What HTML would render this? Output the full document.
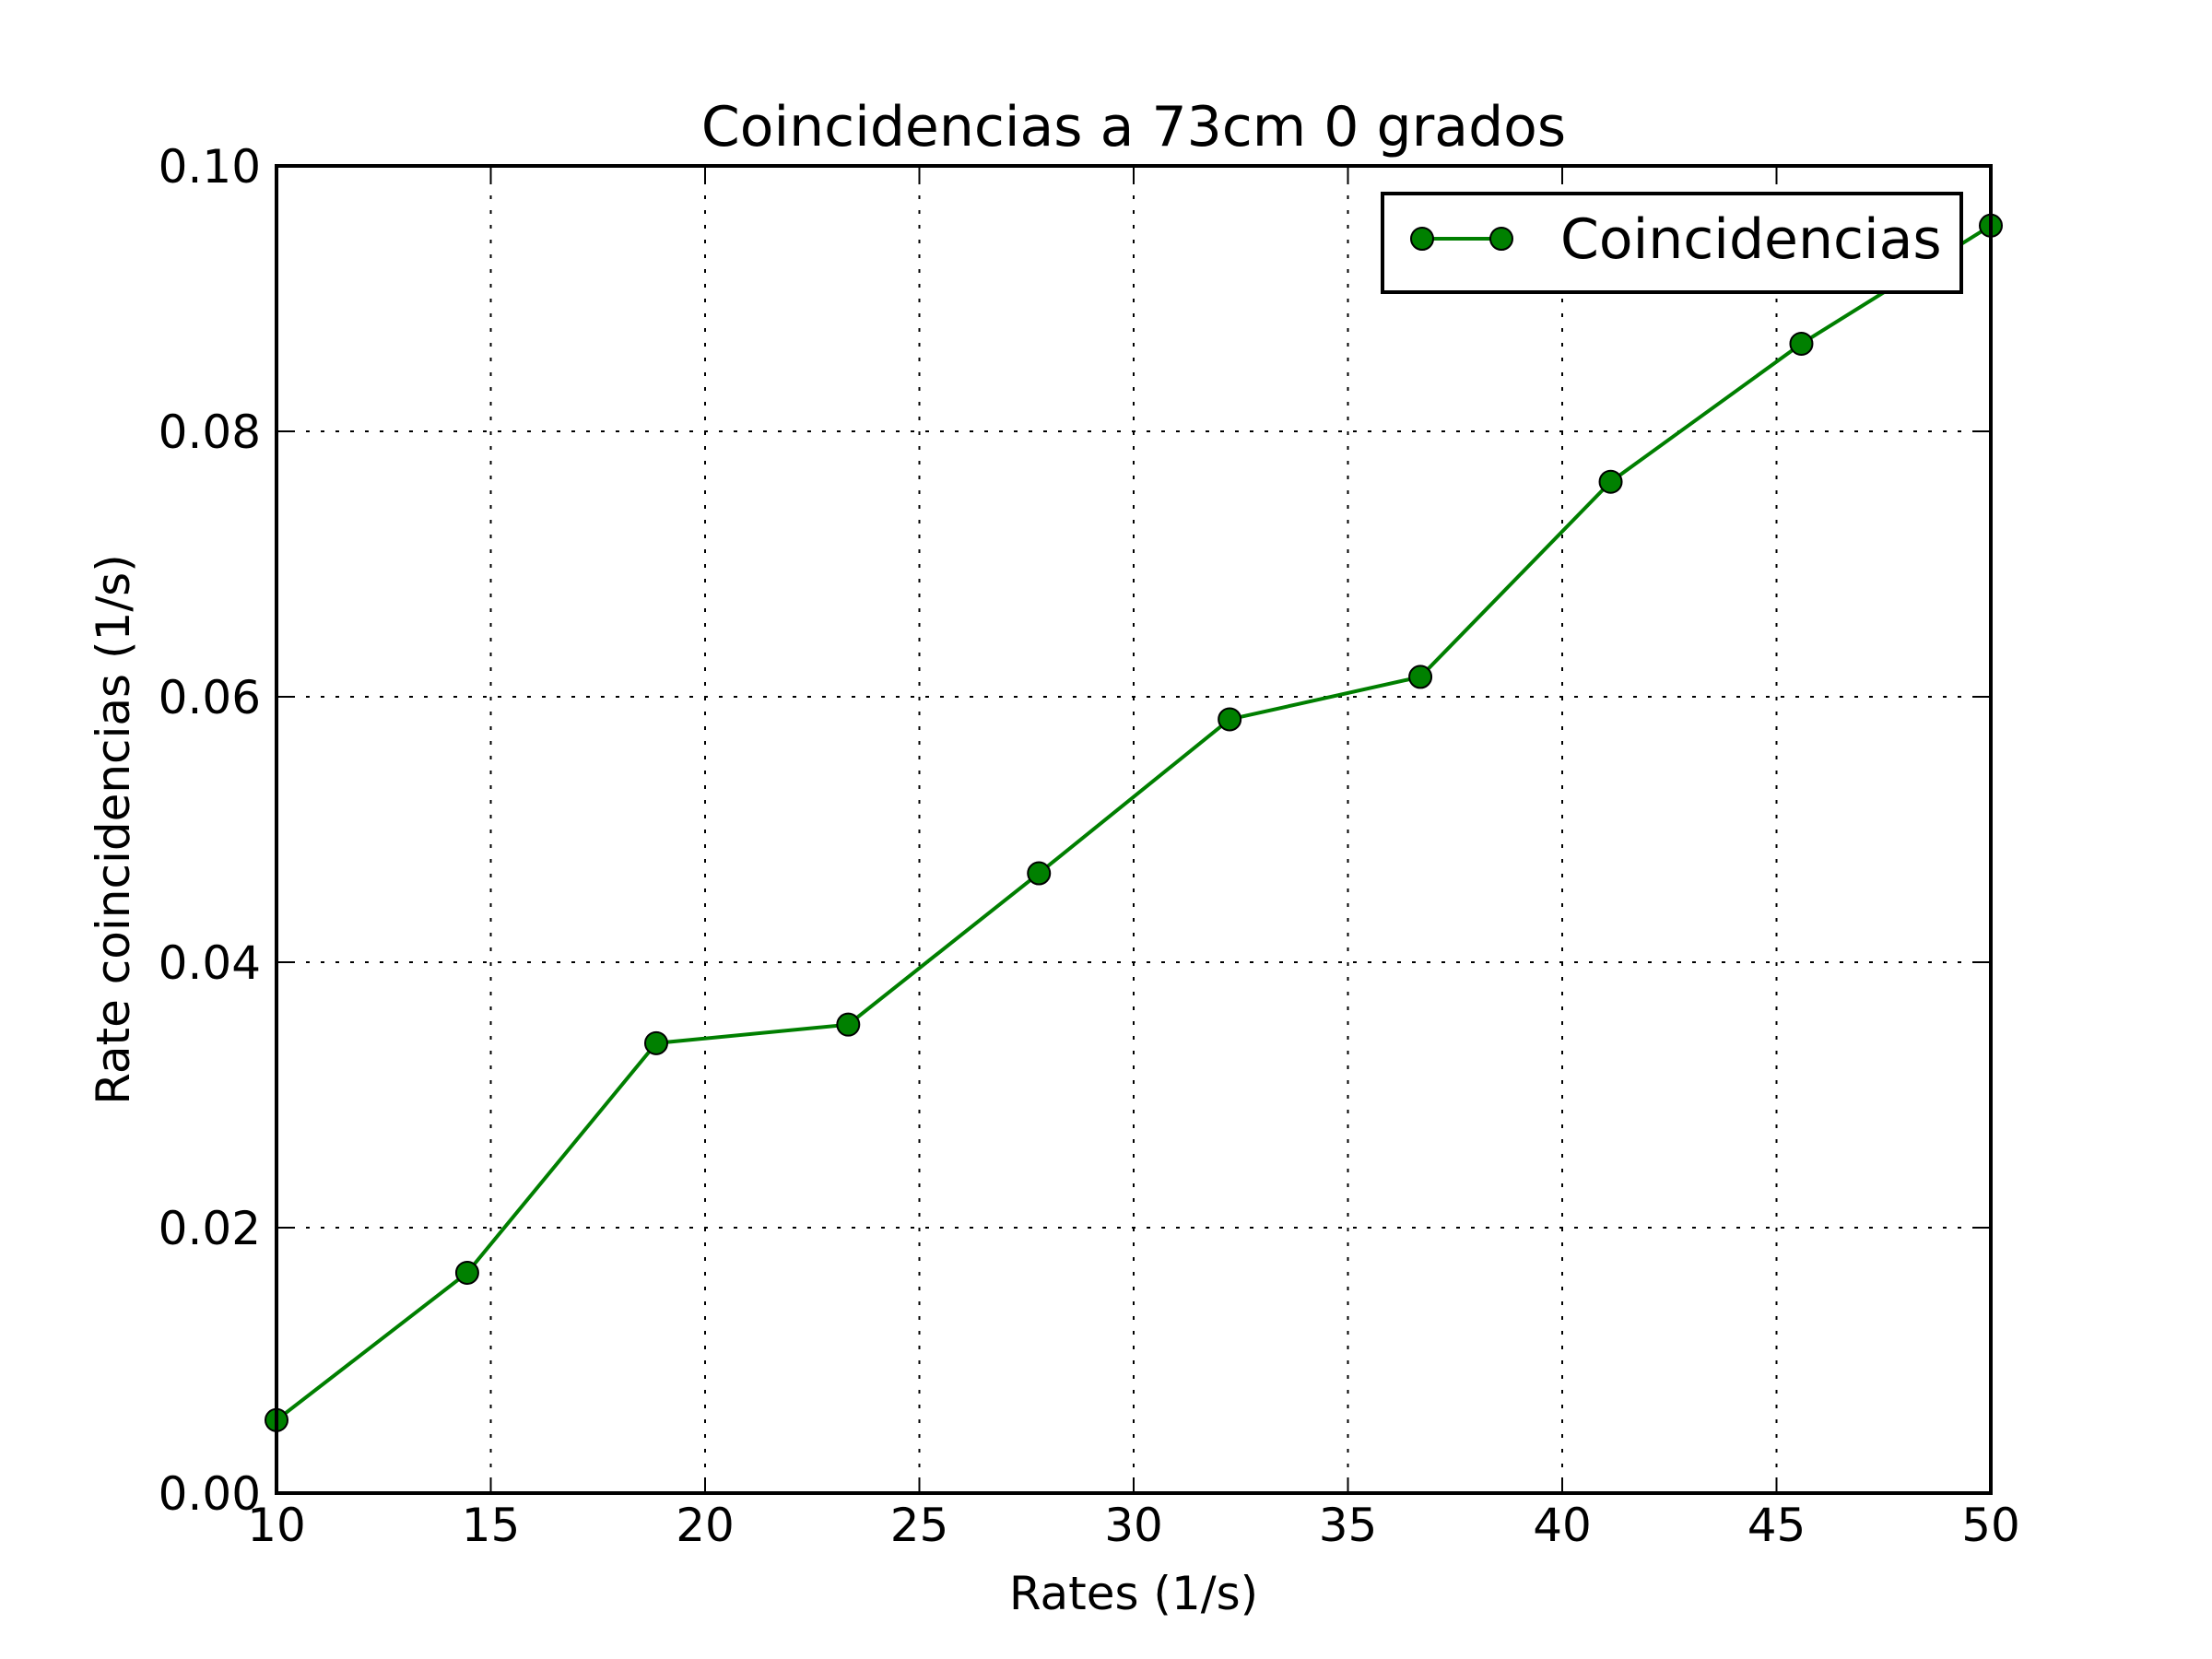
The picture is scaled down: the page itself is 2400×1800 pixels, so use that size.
<!DOCTYPE html>
<html><head><meta charset="utf-8"><style>
html,body{margin:0;padding:0;background:#fff;}
svg{display:block;font-family:"DejaVu Sans","Liberation Sans",sans-serif;}
</style></head><body>
<svg id="chart" width="2400" height="1800" viewBox="0 0 2400 1800" xmlns="http://www.w3.org/2000/svg">
<rect width="2400" height="1800" fill="#fff"/>
<g id="grid"></g>
<g id="series"></g>
<rect x="300" y="180" width="1860" height="1440" fill="none" stroke="#000" stroke-width="4"/>
<g id="ticks"></g>
<text x="1230" y="158" font-size="60" text-anchor="middle">Coincidencias a 73cm 0 grados</text>
<text x="1230" y="1746" font-size="50" text-anchor="middle">Rates (1/s)</text>
<text transform="translate(140,900) rotate(-90)" font-size="50" text-anchor="middle">Rate coincidencias (1/s)</text>
<g>
<rect x="1500" y="210" width="628" height="107" fill="#fff" stroke="#000" stroke-width="4"/>
<line x1="1543" y1="259" x2="1629" y2="259" stroke="#007f00" stroke-width="4"/>
<circle cx="1543" cy="259" r="12" fill="#008000" stroke="#000" stroke-width="2"/>
<circle cx="1629" cy="259" r="12" fill="#008000" stroke="#000" stroke-width="2"/>
<text x="1693" y="280" font-size="60">Coincidencias</text>
</g>
</svg>
<script>
const xValues = [10, 14.45, 18.86, 23.34, 27.79, 32.24, 36.69, 41.13, 45.58, 50];
const yValues = [0.0055, 0.0166, 0.0339, 0.0353, 0.0467, 0.0583, 0.0615, 0.0762, 0.0866, 0.0955];
const xTicks = [10, 15, 20, 25, 30, 35, 40, 45, 50];
const yTicks = [0, 0.02, 0.04, 0.06, 0.08, 0.1];
const yTickLabels = ["0.00", "0.02", "0.04", "0.06", "0.08", "0.10"];

const L=300,R=2160,T=180,B=1620;
function sx(v){return L+(v-10)/(50-10)*(R-L);}
function sy(v){return B-(v-0)/(0.1-0)*(B-T);}
const NS="http://www.w3.org/2000/svg";
function mk(tag,attrs,parent){const e=document.createElementNS(NS,tag);for(const k in attrs)e.setAttribute(k,attrs[k]);parent.appendChild(e);return e;}
const grid=document.getElementById('grid'),ticks=document.getElementById('ticks'),series=document.getElementById('series');
xTicks.forEach(t=>{
  const x=sx(t);
  const g=mk('line',{x1:x,y1:T,x2:x,y2:B,stroke:'#000','stroke-width':2,'stroke-dasharray':'4,12'},grid);
  
  
  mk('line',{x1:x,y1:B,x2:x,y2:B-17,stroke:'#000','stroke-width':2},ticks);
  mk('line',{x1:x,y1:T,x2:x,y2:T+17,stroke:'#000','stroke-width':2},ticks);
  const lb=mk('text',{x:x,y:1672,'font-size':50,'text-anchor':'middle'},ticks);
  lb.textContent=String(t);
  
  
});
yTicks.forEach((t,i)=>{
  const y=sy(t);
  const g=mk('line',{x1:L,y1:y,x2:R,y2:y,stroke:'#000','stroke-width':2,'stroke-dasharray':'4,12'},grid);
  
  
  mk('line',{x1:L,y1:y,x2:L+17,y2:y,stroke:'#000','stroke-width':2},ticks);
  mk('line',{x1:R,y1:y,x2:R-17,y2:y,stroke:'#000','stroke-width':2},ticks);
  const lb=mk('text',{x:283,y:y+18,'font-size':50,'text-anchor':'end'},ticks);
  lb.textContent=yTickLabels[i];
  
  
});
const pts=xValues.map((x,i)=>sx(x)+','+sy(yValues[i])).join(' ');
const pl=mk('polyline',{points:pts,fill:'none',stroke:'#007f00','stroke-width':4},series);


xValues.forEach((x,i)=>{
  const c=mk('circle',{cx:sx(x),cy:sy(yValues[i]),r:12,fill:'#008000',stroke:'#000','stroke-width':2},series);
  
  
});
</script>
</body></html>
